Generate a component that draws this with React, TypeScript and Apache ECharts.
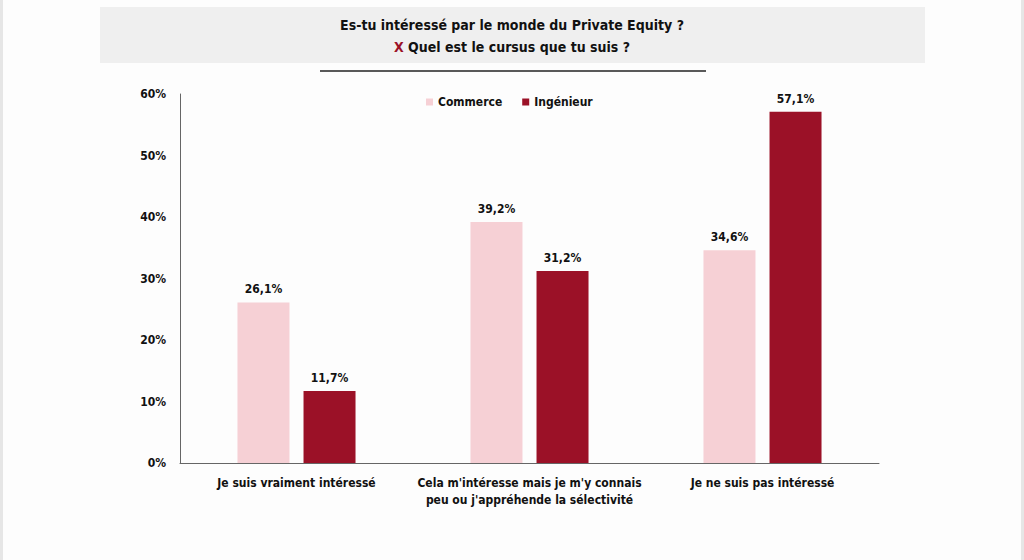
import React, { useEffect, useRef } from "react";
import * as echarts from "echarts";

const categories = [
  "Je suis vraiment intéressé",
  "Cela m'intéresse mais je m'y connais\npeu ou j'appréhende la sélectivité",
  "Je ne suis pas intéressé",
];
const commerce = [26.1, 39.2, 34.6];
const ingenieur = [11.7, 31.2, 57.1];
const seriesNames = ["Commerce", "Ingénieur"];
const titleLine1 = "Es-tu intéressé par le monde du Private Equity ?";
const titleLine2 = "Quel est le cursus que tu suis ?";

const FONT = "'Liberation Sans Narrow', 'Arial Narrow', 'DejaVu Sans Condensed', sans-serif";
const PINK = "#f6d0d5";
const DARK = "#9b1127";

export default function App() {
  const ref = useRef<HTMLDivElement>(null);
  useEffect(() => {
    document.body.style.margin = "0";
    const chart = echarts.init(ref.current!, undefined, { renderer: "svg" });
    const fmt = (p: any) => p.value.toFixed(1).replace(".", ",") + "%";
    chart.setOption({
      animation: false,
      backgroundColor: "#fdfdfd",
      textStyle: { fontFamily: FONT },
      graphic: [
        { type: "rect", shape: { x: 0, y: 0, width: 3, height: 560 }, style: { fill: "#e6e6e6" } },
        { type: "rect", shape: { x: 1021, y: 0, width: 3, height: 560 }, style: { fill: "#e6e6e6" } },
        { type: "rect", z: -1, shape: { x: 100, y: 7, width: 825, height: 56 }, style: { fill: "#efefef" } },
        { type: "line", shape: { x1: 320, y1: 71, x2: 706, y2: 71 }, style: { stroke: "#222", lineWidth: 1.5 } },
      ],
      title: {
        text: titleLine1 + "\n{x|X} " + titleLine2,
        left: "center",
        top: 9,
        textStyle: {
          fontFamily: FONT,
          fontSize: 14,
          fontWeight: "bold",
          color: "#111",
          lineHeight: 22,
          rich: {
            x: { fontFamily: FONT, fontSize: 14, fontWeight: "bold", color: DARK, lineHeight: 22 },
          },
        },
      },
      legend: {
        left: 421,
        top: 91,
        itemWidth: 7,
        itemHeight: 7,
        itemGap: 20,
        icon: "rect",
        textStyle: { fontFamily: FONT, fontSize: 12, fontWeight: "bold", color: "#111" },
        data: seriesNames,
      },
      grid: { left: 180, right: 145, top: 94, bottom: 97, containLabel: false },
      xAxis: {
        type: "category",
        data: categories,
        axisLine: { lineStyle: { color: "#666", width: 1 } },
        axisTick: { show: false },
        axisLabel: {
          margin: 11,
          fontFamily: FONT,
          fontSize: 12,
          fontWeight: "bold",
          color: "#111",
          lineHeight: 17,
          interval: 0,
        },
      },
      yAxis: {
        type: "value",
        min: 0,
        max: 60,
        interval: 10,
        splitLine: { show: false },
        axisLine: { show: true, lineStyle: { color: "#666", width: 1 } },
        axisTick: { show: false },
        axisLabel: {
          margin: 14,
          formatter: "{value}%",
          fontFamily: FONT,
          fontSize: 12,
          fontWeight: "bold",
          color: "#111",
        },
      },
      series: [
        {
          name: seriesNames[0],
          type: "bar",
          data: commerce,
          barWidth: 52,
          barGap: "27%",
          itemStyle: { color: PINK },
          label: { show: true, position: "top", distance: 7, formatter: fmt, fontFamily: FONT, fontSize: 12, fontWeight: "bold", color: "#111" },
        },
        {
          name: seriesNames[1],
          type: "bar",
          data: ingenieur,
          barWidth: 52,
          barGap: "27%",
          itemStyle: { color: DARK },
          label: { show: true, position: "top", distance: 7, formatter: fmt, fontFamily: FONT, fontSize: 12, fontWeight: "bold", color: "#111" },
        },
      ],
    });
    return () => chart.dispose();
  }, []);
  return <div ref={ref} style={{ width: 1024, height: 560 }} />;
}
